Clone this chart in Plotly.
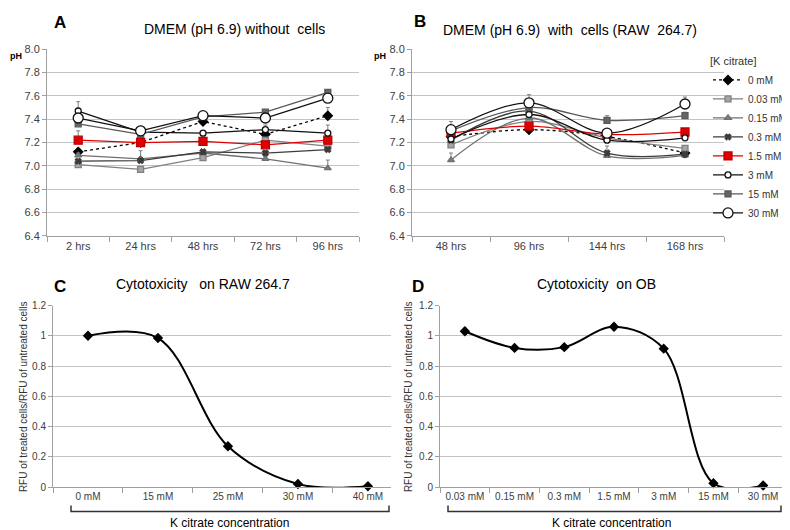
import plotly.graph_objects as go

# ---------------- data ----------------
times_a = ["2 hrs", "24 hrs", "48 hrs", "72 hrs", "96 hrs"]
times_b = ["48 hrs", "96 hrs", "144 hrs", "168 hrs"]
conc_labels = ["0 mM", "0.03 mM", "0.15 mM", "0.3 mM", "1.5 mM", "3 mM", "15 mM", "30 mM"]

# Panel A: pH without cells
ph_a_0 = [7.12, 7.20, 7.38, 7.27, 7.43]
ph_a_003 = [7.01, 6.97, 7.07, 7.22, 7.17]
ph_a_015 = [7.09, 7.06, 7.11, 7.06, 6.98]
ph_a_03 = [7.04, 7.045, 7.12, 7.11, 7.14]
ph_a_15 = [7.22, 7.20, 7.21, 7.18, 7.22]
ph_a_3 = [7.47, 7.29, 7.28, 7.31, 7.28]
ph_a_15mm = [7.36, 7.27, 7.42, 7.46, 7.63]
ph_a_30 = [7.41, 7.30, 7.43, 7.41, 7.58]

err_a_0 = [0.03, 0.02, 0.03, 0.03, 0.07]
err_a_003 = [0.01, 0.01, 0.02, 0.02, 0.02]
err_a_015 = [0.02, 0.07, 0.02, 0.02, 0.07]
err_a_03 = [0.01, 0.02, 0.02, 0.02, 0.02]
err_a_15 = [0.08, 0.02, 0.02, 0.02, 0.02]
err_a_3 = [0.08, 0.02, 0.02, 0.04, 0.07]
err_a_15mm = [0.02, 0.02, 0.02, 0.02, 0.02]
err_a_30 = [0.02, 0.04, 0.02, 0.02, 0.02]

# Panel B: pH with cells (RAW 264.7)
ph_b_0 = [7.25, 7.31, 7.25, 7.11]
ph_b_003 = [7.18, 7.38, 7.24, 7.15]
ph_b_015 = [7.05, 7.41, 7.085, 7.09]
ph_b_03 = [7.22, 7.47, 7.11, 7.10]
ph_b_15 = [7.28, 7.34, 7.27, 7.29]
ph_b_3 = [7.23, 7.44, 7.22, 7.24]
ph_b_15mm = [7.30, 7.50, 7.39, 7.43]
ph_b_30 = [7.31, 7.54, 7.28, 7.53]

err_b_0 = [0.02, 0.02, 0.02, 0.02]
err_b_003 = [0.02, 0.02, 0.02, 0.02]
err_b_015 = [0.06, 0.02, 0.02, 0.02]
err_b_03 = [0.02, 0.02, 0.06, 0.02]
err_b_15 = [0.02, 0.02, 0.02, 0.02]
err_b_3 = [0.02, 0.02, 0.02, 0.02]
err_b_15mm = [0.08, 0.03, 0.04, 0.03]
err_b_30 = [0.03, 0.07, 0.02, 0.06]

# Panel C: cytotoxicity on RAW 264.7
conc_c = ["0 mM", "15 mM", "25 mM", "30 mM", "40 mM"]
rfu_c = [1.00, 0.985, 0.27, 0.02, 0.005]
err_c = [0.015, 0.015, 0.01, 0.01, 0.005]

# Panel D: cytotoxicity on OB
conc_d = ["0.03 mM", "0.15 mM", "0.3 mM", "1.5 mM", "3 mM", "15 mM", "30 mM"]
rfu_d = [1.03, 0.92, 0.925, 1.06, 0.915, 0.025, 0.01]
err_d = [0.02, 0.015, 0.015, 0.02, 0.01, 0.01, 0.005]

series_a = [ph_a_0, ph_a_003, ph_a_015, ph_a_03, ph_a_15, ph_a_3, ph_a_15mm, ph_a_30]
errs_a = [err_a_0, err_a_003, err_a_015, err_a_03, err_a_15, err_a_3, err_a_15mm, err_a_30]
series_b = [ph_b_0, ph_b_003, ph_b_015, ph_b_03, ph_b_15, ph_b_3, ph_b_15mm, ph_b_30]
errs_b = [err_b_0, err_b_003, err_b_015, err_b_03, err_b_15, err_b_3, err_b_15mm, err_b_30]

# ---------------- styles ----------------
styles = [
    dict(lc="#000000", dash="dot", sym="diamond", ms=7, mc="#000000", ml="#000000"),
    dict(lc="#808080", dash="solid", sym="square", ms=6, mc="#a5a5a5", ml="#808080"),
    dict(lc="#6f6f6f", dash="solid", sym="triangle-up", ms=6, mc="#7f7f7f", ml="#6f6f6f"),
    dict(lc="#3c3c3c", dash="solid", sym="x", ms=5, mc="#3c3c3c", ml="#3c3c3c"),
    dict(lc="#e00000", dash="solid", sym="square", ms=8, mc="#e00000", ml="#c00000"),
    dict(lc="#111111", dash="solid", sym="circle", ms=6, mc="#ffffff", ml="#111111"),
    dict(lc="#595959", dash="solid", sym="square", ms=6, mc="#666666", ml="#595959"),
    dict(lc="#111111", dash="solid", sym="circle", ms=10, mc="#ffffff", ml="#111111"),
]

FONT = "Liberation Sans, Arial, sans-serif"
W, H = 790, 530


def px_x(v):
    return v / W


def px_y(v):
    return (H - v) / H


fig = go.Figure()

for i, lab in enumerate(conc_labels):
    s = styles[i]
    fig.add_trace(go.Scatter(
        x=times_a, y=series_a[i], name=lab, mode="lines+markers",
        line=dict(color=s["lc"], width=1.3, dash=s["dash"]),
        marker=dict(symbol=s["sym"], size=s["ms"], color=s["mc"],
                    line=dict(color=s["ml"], width=1.3)),
        error_y=dict(type="data", symmetric=False, array=errs_a[i],
                     arrayminus=[0] * len(errs_a[i]), color="#7f7f7f",
                     thickness=1, width=2),
        xaxis="x", yaxis="y", showlegend=True, legendrank=i,
    ))

for i, lab in enumerate(conc_labels):
    s = styles[i]
    fig.add_trace(go.Scatter(
        x=times_b, y=series_b[i], name=lab, mode="lines+markers",
        line=dict(color=s["lc"], width=1.3, dash=s["dash"], shape="spline", smoothing=1),
        marker=dict(symbol=s["sym"], size=s["ms"], color=s["mc"],
                    line=dict(color=s["ml"], width=1.3)),
        error_y=dict(type="data", symmetric=False, array=errs_b[i],
                     arrayminus=[0] * len(errs_b[i]), color="#7f7f7f",
                     thickness=1, width=2),
        xaxis="x2", yaxis="y2", showlegend=False,
    ))

for xs, ys, es, xa, ya in [(conc_c, rfu_c, err_c, "x3", "y3"), (conc_d, rfu_d, err_d, "x4", "y4")]:
    fig.add_trace(go.Scatter(
        x=xs, y=ys, mode="lines", line=dict(color="black", width=2, shape="spline", smoothing=1),
        xaxis=xa, yaxis=ya, showlegend=False, hoverinfo="skip",
    ))
    fig.add_trace(go.Scatter(
        x=xs, y=ys, mode="markers", cliponaxis=False,
        marker=dict(symbol="diamond", size=8, color="black"),
        error_y=dict(type="data", array=es, color="#555555", thickness=1, width=2),
        xaxis=xa, yaxis=ya, showlegend=False,
    ))

tickfont = dict(family=FONT, size=11, color="#404040")
tickfont_s = dict(family=FONT, size=10, color="#404040")
grid = "#c4c4c4"
axl = "#a0a0a0"


def xcat(domain, rng, anchor, tf):
    return dict(domain=domain, anchor=anchor, type="category", range=rng,
                tickson="boundaries", ticks="outside", ticklen=5, tickcolor=axl,
                showline=True, linecolor=axl, showgrid=False, zeroline=False,
                tickfont=tf, fixedrange=True)


def ylin(domain, rng, dtick, anchor, fmt, tf):
    return dict(domain=domain, anchor=anchor, range=rng, dtick=dtick, tick0=0,
                tickformat=fmt, showgrid=True, gridcolor=grid, gridwidth=1,
                showline=True, linecolor=axl, ticks="outside", ticklen=4,
                tickcolor=axl, zeroline=False, tickfont=tf, fixedrange=True)


ydomAB = [px_y(227), px_y(36)]
ydomCD = [px_y(484), px_y(298.3)]

fig.update_layout(
    width=W, height=H, margin=dict(l=0, r=0, t=0, b=0),
    paper_bgcolor="white", plot_bgcolor="white",
    font=dict(family=FONT, color="black"),
    xaxis=xcat([px_x(39), px_x(351)], [-0.5, 4.5], "y", tickfont),
    yaxis=ylin(ydomAB, [6.4, 8.0], 0.2, "x", ".1f", tickfont),
    xaxis2=xcat([px_x(404), px_x(716)], [-0.5, 3.5], "y2", tickfont),
    yaxis2=ylin(ydomAB, [6.4, 8.0], 0.2, "x2", ".1f", tickfont),
    xaxis3=xcat([px_x(45), px_x(383)], [-0.5, 4.33], "y3", tickfont_s),
    yaxis3=ylin(ydomCD, [0, 1.2], 0.2, "x3", "", tickfont_s),
    xaxis4=xcat([px_x(432), px_x(780)], [-0.5, 6.5], "y4", tickfont_s),
    yaxis4=ylin(ydomCD, [0, 1.2], 0.2, "x4", "", tickfont_s),
    legend=dict(x=px_x(700), y=px_y(38), xanchor="left", yanchor="top",
                font=dict(family=FONT, size=10, color="#333333"),
                title=dict(text="[K citrate]", font=dict(family=FONT, size=11, color="#333333")),
                bgcolor="rgba(0,0,0,0)", tracegroupgap=0, itemclick=False),
)

NB = "\u00a0"
ann = [
    dict(text="<b>A</b>", x=52, y=9, size=17),
    dict(text="<b>B</b>", x=412, y=8, size=17),
    dict(text="<b>C</b>", x=52, y=279, size=17),
    dict(text="<b>D</b>", x=410, y=279, size=17),
    dict(text="DMEM (pH 6.9) without" + NB + " cells", x=226, y=15, size=14),
    dict(text="DMEM (pH 6.9)" + NB + " with" + NB + " cells (RAW" + NB + " 264.7)", x=562, y=16, size=14),
    dict(text="Cytotoxicity" + NB * 2 + " on RAW 264.7", x=195, y=276, size=14),
    dict(text="Cytotoxicity" + NB + " on OB", x=588, y=276, size=14),
    dict(text="<b>pH</b>", x=8, y=43, size=9),
    dict(text="<b>pH</b>", x=372, y=43, size=9),
    dict(text="K citrate concentration", x=221, y=521, size=12),
    dict(text="K citrate concentration", x=603, y=521, size=12),
]
for a in ann:
    fig.add_annotation(text=a["text"], x=px_x(a["x"]), y=px_y(a["y"]), xref="paper", yref="paper",
                       showarrow=False, xanchor="center", yanchor="middle",
                       font=dict(family=FONT, size=a["size"], color="black"))

for xc in (15, 400):
    fig.add_annotation(text="RFU of treated cells/RFU of untreated cells", x=px_x(xc), y=px_y(392),
                       xref="paper", yref="paper", showarrow=False, textangle=-90,
                       xanchor="center", yanchor="middle",
                       font=dict(family=FONT, size=10, color="#333333"))

# brackets under C and D
for x0, x1 in ((63, 381), (440, 773)):
    path = "M {a},{b} L {a},{c} L {d},{c} L {d},{b}".format(
        a=px_x(x0), b=px_y(503), c=px_y(509), d=px_x(x1))
    fig.add_shape(type="path", path=path, xref="paper", yref="paper",
                  line=dict(color="#333333", width=1.5))

fig.write_html("out.html")
